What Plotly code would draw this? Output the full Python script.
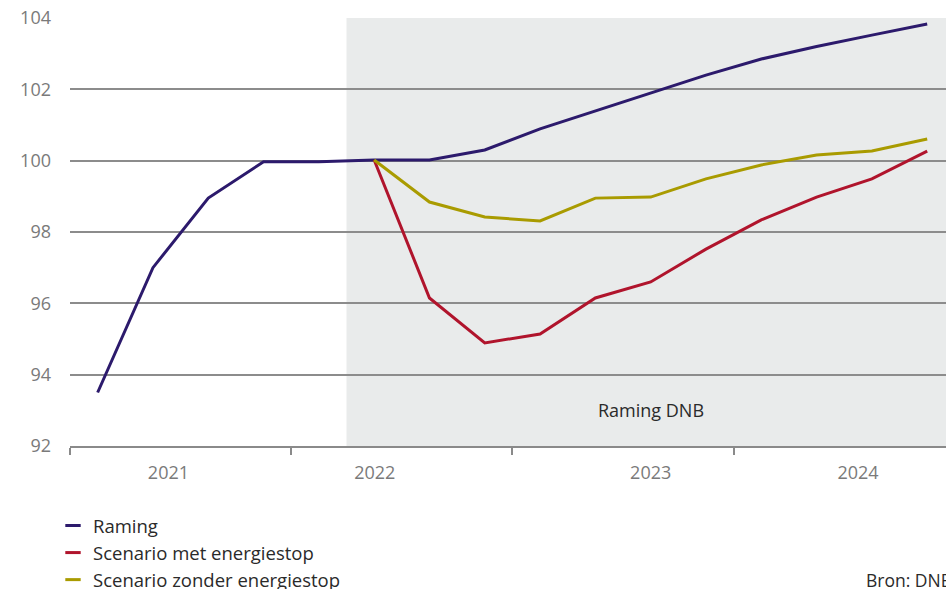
import plotly.graph_objects as go

quarters = list(range(16))
raming = [93.5, 97.0, 98.95, 99.97, 99.97, 100.02, 100.02, 100.3, 100.89, 101.39,
          101.9, 102.4, 102.85, 103.2, 103.52, 103.83]
met_idx = list(range(5, 16))
met_energiestop = [100.02, 96.15, 94.89, 95.14, 96.15, 96.6, 97.52, 98.34, 98.98, 99.49, 100.27]
zonder_energiestop = [100.02, 98.84, 98.42, 98.31, 98.95, 98.98, 99.49, 99.88, 100.16, 100.27, 100.61]
year_labels = ["2021", "2022", "2023", "2024"]
series_names = ["Raming", "Scenario met energiestop", "Scenario zonder energiestop"]

C_RAM = "#2c1a6c"
C_MET = "#b0142c"
C_ZON = "#a99b00"
FONT = "Open Sans"

fig = go.Figure()
fig.add_trace(go.Scatter(x=quarters, y=raming, mode="lines", line=dict(color=C_RAM, width=3),
                         showlegend=False, hoverinfo="skip"))
fig.add_trace(go.Scatter(x=met_idx, y=met_energiestop, mode="lines", line=dict(color=C_MET, width=3),
                         showlegend=False))
fig.add_trace(go.Scatter(x=met_idx, y=zonder_energiestop, mode="lines", line=dict(color=C_ZON, width=3),
                         showlegend=False))

# legend entries with short dash symbols
for name, col in zip(series_names, [C_RAM, C_MET, C_ZON]):
    fig.add_trace(go.Scatter(x=[None], y=[None], mode="markers", name=name,
                             marker=dict(symbol="line-ew", size=11, line=dict(color=col, width=3))))

x_end = 15.34
fig.add_shape(type="rect", xref="x", yref="paper", x0=4.5, x1=x_end, y0=0, y1=1,
              fillcolor="#e9ebeb", line_width=0, layer="below")

W, H = 946, 589
L, R, T, B = 70, 0, 18, 143
pw, ph = W - L - R, H - T - B

fig.add_annotation(x=10, y=93.0, xref="x", yref="y", text="Raming DNB", showarrow=False,
                   font=dict(family=FONT, size=18, color="#2a2a2a"))
fig.add_annotation(x=(864 - L) / pw, y=(H - 580 - B) / ph, xref="paper", yref="paper",
                   text="Bron: DNB", showarrow=False, xanchor="left", yanchor="middle",
                   font=dict(family=FONT, size=17.5, color="#2a2a2a"))

fig.update_layout(
    width=W, height=H,
    margin=dict(l=L, r=R, t=T, b=B, autoexpand=False),
    paper_bgcolor="white", plot_bgcolor="white",
    font=dict(family=FONT, size=18, color="#2a2a2a"),
    legend=dict(x=(53 - L) / pw, y=(H - 507 - B) / ph, xanchor="left", yanchor="top",
                font=dict(family=FONT, size=18.5, color="#2a2a2a"),
                bgcolor="rgba(0,0,0,0)", itemwidth=30, tracegroupgap=0),
    xaxis=dict(range=[-0.5, x_end], tickvals=[1.28, 5.01, 10.0, 13.75], ticktext=year_labels,
               ticks="", showgrid=False, zeroline=False, showline=True, linecolor="#8a8a8a",
               linewidth=2, tickfont=dict(family=FONT, size=18, color="#7a7a7a"),
               ticklabelstandoff=9,
               minor=dict(tickvals=[-0.5, 3.5, 7.5, 11.5], ticks="outside", ticklen=7,
                          tickcolor="#8a8a8a", tickwidth=1.5, showgrid=False)),
    yaxis=dict(range=[92, 104], dtick=2, tick0=92, showgrid=True, gridcolor="#8c8c8c", gridwidth=1.5,
               zeroline=False, showline=False, ticks="",
               tickfont=dict(family=FONT, size=18, color="#7a7a7a"), ticklabelstandoff=18),
)

fig.write_html("out.html")
